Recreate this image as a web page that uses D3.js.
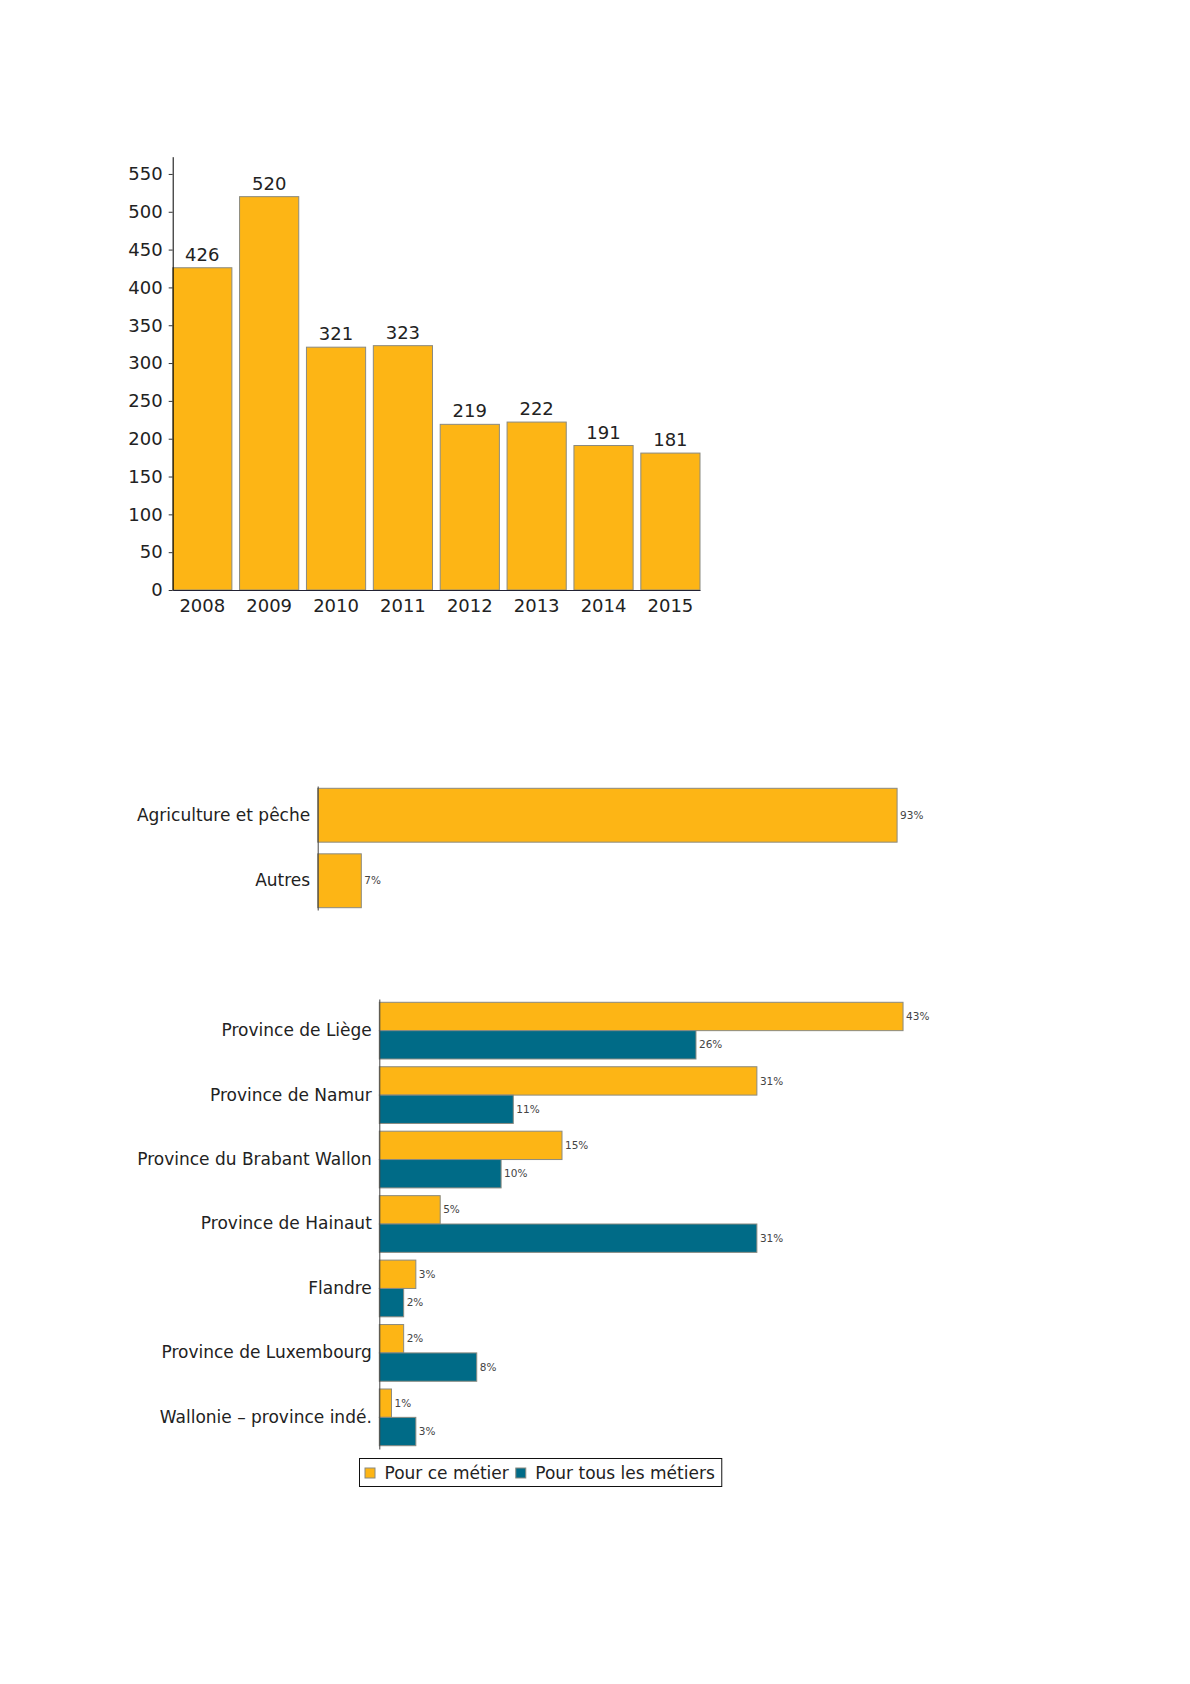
<!DOCTYPE html>
<html>
<head>
<meta charset="utf-8">
<script src="https://cdn.jsdelivr.net/npm/d3@7"></script>
<style>
  body { margin: 0; background: #fff; }
  text { font-family: "DejaVu Sans", sans-serif; }
</style>
</head>
<body>
<div id="page"></div>
<script>
// chart 1 : nombre par année
const years = ["2008", "2009", "2010", "2011", "2012", "2013", "2014", "2015"];
const counts = [426, 520, 321, 323, 219, 222, 191, 181];
const countTicks = [0, 50, 100, 150, 200, 250, 300, 350, 400, 450, 500, 550];

// chart 2 : secteurs
const sectors = ["Agriculture et pêche", "Autres"];
const sectorShares = [93, 7];

// chart 3 : provinces
const provinces = ["Province de Liège", "Province de Namur", "Province du Brabant Wallon",
  "Province de Hainaut", "Flandre", "Province de Luxembourg", "Wallonie – province indé."];
const shareMetier = [43, 31, 15, 5, 3, 2, 1];
const shareTous = [26, 11, 10, 31, 2, 8, 3];
const seriesNames = ["Pour ce métier", "Pour tous les métiers"];

const yellow = "#FDB515";
const blue = "#006B87";
const barStroke = "#8a8a80";
const textCol = "#222";

const svg = d3.select("#page").append("svg")
  .attr("width", 1190)
  .attr("height", 1684)
  .style("background", "#fff");

// ---------- chart 1 ----------
const x1 = d3.scaleBand().domain(years).range([172.7, 700]).paddingInner(0.115).paddingOuter(0);
const y1 = d3.scaleLinear().domain([0, 572.8]).range([590, 156.7]);

const g1 = svg.append("g");

g1.selectAll("rect")
  .data(years)
  .join("rect")
  .attr("x", d => x1(d))
  .attr("y", (d, i) => y1(counts[i]))
  .attr("width", x1.bandwidth())
  .attr("height", (d, i) => y1(0) - y1(counts[i]))
  .attr("fill", yellow)
  .attr("stroke", barStroke)
  .attr("stroke-width", 1);

g1.selectAll("text.val")
  .data(years)
  .join("text")
  .attr("class", "val")
  .attr("x", d => x1(d) + x1.bandwidth() / 2)
  .attr("y", (d, i) => y1(counts[i]) - 7)
  .attr("text-anchor", "middle")
  .style("font-size", "18px")
  .attr("fill", textCol)
  .text((d, i) => counts[i]);

const yAxis1 = g1.append("g")
  .attr("transform", `translate(${x1.range()[0]},0)`)
  .call(d3.axisLeft(y1).tickValues(countTicks).tickSize(4).tickSizeOuter(0).tickPadding(6));
yAxis1.select(".domain").attr("stroke", "#000");
yAxis1.selectAll(".tick line").attr("stroke", "#333");
yAxis1.selectAll("text").style("font-size", "18px").style("font-family", "DejaVu Sans").attr("fill", textCol);

const xAxis1 = g1.append("g")
  .attr("transform", `translate(0,${y1(0)})`)
  .call(d3.axisBottom(x1).tickSize(0).tickSizeOuter(0).tickPadding(9));
xAxis1.select(".domain").attr("stroke", "#223");
xAxis1.selectAll("text").style("font-size", "18px").style("font-family", "DejaVu Sans").attr("fill", textCol);

// ---------- chart 2 ----------
const y2 = d3.scaleBand().domain(sectors).range([786, 910]).paddingInner(0.178).paddingOuter(0.035);
const x2 = d3.scaleLinear().domain([0, 100]).range([317.7, 940.7]);

const g2 = svg.append("g");

g2.selectAll("rect")
  .data(sectors)
  .join("rect")
  .attr("x", x2(0))
  .attr("y", d => y2(d))
  .attr("width", (d, i) => x2(sectorShares[i]) - x2(0))
  .attr("height", y2.bandwidth())
  .attr("fill", yellow)
  .attr("stroke", barStroke);

g2.selectAll("text.val")
  .data(sectors)
  .join("text")
  .attr("class", "val")
  .attr("x", (d, i) => x2(sectorShares[i]) + 3)
  .attr("y", d => y2(d) + y2.bandwidth() / 2)
  .attr("dy", "0.35em")
  .style("font-size", "10.5px")
  .attr("fill", "#444")
  .text((d, i) => sectorShares[i] + "%");

const yAxis2 = g2.append("g")
  .attr("transform", `translate(${x2(0)},0)`)
  .call(d3.axisLeft(y2).tickSize(0).tickSizeOuter(0).tickPadding(7.5));
yAxis2.select(".domain").attr("stroke", "#444");
yAxis2.selectAll("text").style("font-size", "17px").style("font-family", "DejaVu Sans").attr("fill", textCol);

// ---------- chart 3 ----------
const y3 = d3.scaleBand().domain(provinces).range([999, 1449]).paddingInner(0.12).paddingOuter(0.051);
const sub3 = d3.scaleBand().domain(seriesNames).range([0, y3.bandwidth()]);
const x3 = d3.scaleLinear().domain([0, 50]).range([379.3, 988.3]);
const series3 = [shareMetier, shareTous];
const colors3 = d3.scaleOrdinal().domain(seriesNames).range([yellow, blue]);

const g3 = svg.append("g");

const groups = g3.selectAll("g.grp")
  .data(provinces)
  .join("g")
  .attr("class", "grp")
  .attr("transform", d => `translate(0,${y3(d)})`);

groups.selectAll("rect")
  .data((d, i) => seriesNames.map((s, k) => ({ s, v: series3[k][i] })))
  .join("rect")
  .attr("x", x3(0))
  .attr("y", d => sub3(d.s))
  .attr("width", d => x3(d.v) - x3(0))
  .attr("height", sub3.bandwidth())
  .attr("fill", d => colors3(d.s))
  .attr("stroke", barStroke);

groups.selectAll("text")
  .data((d, i) => seriesNames.map((s, k) => ({ s, v: series3[k][i] })))
  .join("text")
  .attr("x", d => x3(d.v) + 3)
  .attr("y", d => sub3(d.s) + sub3.bandwidth() / 2)
  .attr("dy", "0.35em")
  .style("font-size", "10.5px")
  .attr("fill", "#444")
  .text(d => d.v + "%");

const yAxis3 = g3.append("g")
  .attr("transform", `translate(${x3(0)},0)`)
  .call(d3.axisLeft(y3).tickSize(0).tickSizeOuter(0).tickPadding(7.5));
yAxis3.select(".domain").attr("stroke", "#444");
yAxis3.selectAll("text").style("font-size", "17px").style("font-family", "DejaVu Sans").attr("fill", textCol);

// legend
const legend = svg.append("g").attr("transform", "translate(359.5,1458.5)");
const legBox = legend.append("rect")
  .attr("height", 28)
  .attr("fill", "#fff")
  .attr("stroke", "#111")
  .attr("stroke-width", 1);

let lx = 5.5;
seriesNames.forEach((name, k) => {
  legend.append("rect")
    .attr("x", lx)
    .attr("y", 9.5)
    .attr("width", 10)
    .attr("height", 10)
    .attr("fill", colors3(name))
    .attr("stroke", barStroke);
  const t = legend.append("text")
    .attr("x", lx + 19.5)
    .attr("y", 20)
    .style("font-size", "17px")
    .attr("fill", textCol)
    .text(name);
  lx += 19.5 + t.node().getComputedTextLength() + 7;
});
legBox.attr("width", lx);
</script>
</body>
</html>
